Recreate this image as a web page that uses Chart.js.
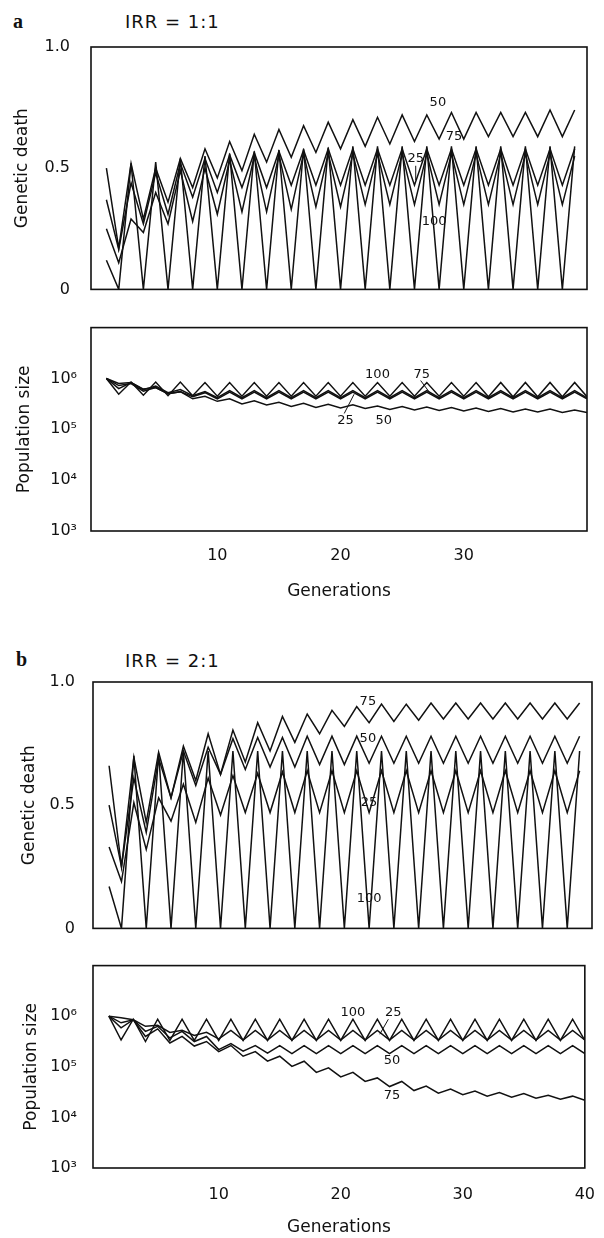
<!DOCTYPE html>
<html>
<head>
<meta charset="utf-8">
<script src="https://cdn.jsdelivr.net/npm/chart.js@4.4.1/dist/chart.umd.min.js"></script>
<style>
  body { margin: 0; background: #fff; width: 604px; height: 1238px; position: relative; overflow: hidden; font-family: "DejaVu Sans", sans-serif; color: #111; }
  canvas { position: absolute; left: 0; }
  .tag { position: absolute; font-family: "Liberation Serif", serif; font-weight: bold; font-size: 20px; line-height: 1; }
  .irr { position: absolute; font-size: 18px; line-height: 1; letter-spacing: 1px; }
</style>
</head>
<body>
<div class="tag" style="left:13px;top:11px">a</div>
<div class="irr" style="left:125px;top:13px">IRR = 1:1</div>
<div class="tag" style="left:16px;top:649px">b</div>
<div class="irr" style="left:125px;top:652px">IRR = 2:1</div>

<canvas id="deathA" width="604" height="312" style="top:0px"></canvas>
<canvas id="popA" width="604" height="294" style="top:312px"></canvas>
<canvas id="deathB" width="604" height="342" style="top:606px"></canvas>
<canvas id="popB" width="604" height="290" style="top:948px"></canvas>

<script>
// generations
const gensDeath = [1,2,3,4,5,6,7,8,9,10,11,12,13,14,15,16,17,18,19,20,21,22,23,24,25,26,27,28,29,30,31,32,33,34,35,36,37,38,39];
const gensPop = [1,2,3,4,5,6,7,8,9,10,11,12,13,14,15,16,17,18,19,20,21,22,23,24,25,26,27,28,29,30,31,32,33,34,35,36,37,38,39,40];

const deathTicks = [0, 0.5, 1];
const deathTickText = ['0', '0.5', '1.0'];
const popTicks = [1e3, 1e4, 1e5, 1e6];
const popTickText = ['10³', '10⁴', '10⁵', '10⁶'];
const genTicksA = [10, 20, 30];
const genTicksB = [10, 20, 30, 40];

// a: IRR = 1:1, genetic death
const deathA50 = [0.50,0.17,0.52,0.29,0.50,0.36,0.54,0.42,0.58,0.46,
  0.61,0.49,0.64,0.525,0.66,0.545,0.675,0.565,0.69,0.58,
  0.70,0.59,0.71,0.60,0.72,0.61,0.72,0.62,0.73,0.62,
  0.73,0.63,0.73,0.63,0.73,0.63,0.74,0.63,0.74];
const deathA75 = [0.37,0.165,0.44,0.27,0.48,0.31,0.52,0.38,0.54,0.40,
  0.555,0.42,0.565,0.42,0.57,0.43,0.575,0.43,0.58,0.43,
  0.58,0.43,0.58,0.43,0.58,0.43,0.58,0.43,0.58,0.43,
  0.58,0.43,0.58,0.43,0.58,0.43,0.58,0.43,0.58];
const deathA25 = [0.25,0.11,0.29,0.235,0.40,0.27,0.49,0.28,0.50,0.31,
  0.535,0.32,0.55,0.32,0.555,0.33,0.56,0.34,0.56,0.34,
  0.56,0.35,0.56,0.35,0.56,0.35,0.56,0.35,0.56,0.35,
  0.56,0.35,0.56,0.35,0.56,0.35,0.56,0.35,0.55];
const deathA100 = [0.12,0,0.52,0,0.525,0,0.54,0,0.55,0,
  0.56,0,0.57,0,0.575,0,0.58,0,0.585,0,
  0.59,0,0.59,0,0.59,0,0.59,0,0.59,0,
  0.59,0,0.59,0,0.59,0,0.59,0,0.59];

// a: population size
const popA100 = [1.00e6,4.90e5,8.51e5,4.68e5,8.51e5,4.57e5,8.51e5,4.57e5,8.32e5,4.47e5,
  8.32e5,4.47e5,8.32e5,4.47e5,8.32e5,4.47e5,8.32e5,4.47e5,8.32e5,4.47e5,
  8.32e5,4.47e5,8.32e5,4.47e5,8.32e5,4.47e5,8.32e5,4.47e5,8.32e5,4.47e5,
  8.32e5,4.37e5,8.32e5,4.37e5,8.32e5,4.37e5,8.32e5,4.37e5,8.32e5,4.37e5];
const popA75 = [1.00e6,6.31e5,8.32e5,6.03e5,7.08e5,5.25e5,6.03e5,4.57e5,5.50e5,4.17e5,
  5.75e5,4.17e5,5.75e5,4.17e5,5.75e5,4.17e5,5.75e5,4.17e5,5.75e5,4.17e5,
  5.75e5,4.17e5,5.75e5,4.17e5,5.75e5,4.17e5,5.75e5,4.17e5,5.75e5,4.17e5,
  5.75e5,4.17e5,5.75e5,4.17e5,5.75e5,4.17e5,5.75e5,4.17e5,5.75e5,4.17e5];
const popA25 = [1.00e6,7.24e5,7.94e5,5.62e5,6.61e5,5.01e5,5.50e5,4.37e5,5.25e5,3.98e5,
  5.37e5,3.98e5,5.37e5,3.98e5,5.37e5,3.98e5,5.37e5,3.98e5,5.37e5,3.98e5,
  5.37e5,3.98e5,5.37e5,3.98e5,5.37e5,3.98e5,5.37e5,3.98e5,5.37e5,3.98e5,
  5.37e5,3.98e5,5.37e5,3.98e5,5.37e5,3.98e5,5.37e5,3.98e5,5.37e5,3.98e5];
const popA50 = [1.00e6,7.94e5,8.32e5,6.17e5,6.61e5,5.01e5,5.50e5,3.98e5,4.47e5,3.55e5,
  3.98e5,3.16e5,3.63e5,3.02e5,3.39e5,2.82e5,3.24e5,2.69e5,3.09e5,2.63e5,
  3.02e5,2.57e5,2.88e5,2.45e5,2.82e5,2.40e5,2.75e5,2.34e5,2.69e5,2.29e5,
  2.63e5,2.24e5,2.57e5,2.19e5,2.51e5,2.19e5,2.51e5,2.14e5,2.40e5,2.14e5];

// b: IRR = 2:1, genetic death
const deathB75 = [0.66,0.25,0.695,0.43,0.715,0.53,0.74,0.60,0.79,0.625,
  0.805,0.675,0.835,0.72,0.86,0.755,0.87,0.79,0.885,0.82,
  0.90,0.835,0.91,0.84,0.91,0.845,0.915,0.85,0.915,0.85,
  0.915,0.85,0.915,0.85,0.915,0.85,0.915,0.85,0.915];
const deathB50 = [0.50,0.25,0.61,0.39,0.69,0.53,0.72,0.58,0.735,0.625,
  0.77,0.645,0.775,0.655,0.775,0.655,0.78,0.665,0.78,0.665,
  0.78,0.67,0.78,0.67,0.78,0.67,0.78,0.67,0.78,0.67,
  0.78,0.67,0.78,0.67,0.78,0.67,0.78,0.67,0.78];
const deathB25 = [0.33,0.19,0.51,0.32,0.53,0.435,0.585,0.43,0.61,0.46,
  0.62,0.47,0.63,0.47,0.635,0.47,0.64,0.47,0.64,0.47,
  0.64,0.47,0.64,0.47,0.64,0.47,0.64,0.47,0.64,0.47,
  0.64,0.47,0.64,0.47,0.64,0.47,0.64,0.47,0.64];
const deathB100 = [0.17,0,0.70,0,0.71,0,0.72,0,0.72,0,
  0.72,0,0.72,0,0.72,0,0.72,0,0.72,0,
  0.72,0,0.72,0,0.72,0,0.72,0,0.72,0,
  0.72,0,0.72,0,0.72,0,0.72,0,0.72];

// b: population size
const popB100 = [1.00e6,3.39e5,8.71e5,3.16e5,8.71e5,3.31e5,8.71e5,3.31e5,8.71e5,3.31e5,
  8.71e5,3.31e5,8.71e5,3.31e5,8.71e5,3.31e5,8.71e5,3.31e5,8.71e5,3.31e5,
  8.71e5,3.31e5,8.71e5,3.31e5,8.71e5,3.31e5,8.71e5,3.31e5,8.71e5,3.31e5,
  8.71e5,3.31e5,8.71e5,3.31e5,8.71e5,3.31e5,8.71e5,3.31e5,8.71e5,3.31e5];
const popB25 = [1.00e6,9.33e5,8.51e5,6.31e5,6.61e5,4.79e5,5.25e5,4.17e5,4.79e5,3.55e5,
  5.25e5,3.39e5,5.25e5,3.39e5,5.25e5,3.39e5,5.25e5,3.39e5,5.25e5,3.39e5,
  5.25e5,3.39e5,5.25e5,3.39e5,5.25e5,3.39e5,5.25e5,3.39e5,5.25e5,3.39e5,
  5.25e5,3.39e5,5.25e5,3.39e5,5.25e5,3.39e5,5.25e5,3.39e5,5.25e5,3.39e5];
const popB50 = [1.00e6,7.41e5,8.51e5,5.01e5,6.31e5,3.72e5,5.01e5,3.16e5,3.98e5,2.19e5,
  2.88e5,2.04e5,2.63e5,1.86e5,2.63e5,1.82e5,2.63e5,1.82e5,2.63e5,1.82e5,
  2.63e5,1.82e5,2.63e5,1.82e5,2.63e5,1.82e5,2.63e5,1.82e5,2.63e5,1.82e5,
  2.63e5,1.82e5,2.63e5,1.82e5,2.63e5,1.82e5,2.63e5,1.82e5,2.63e5,1.82e5];
const popB75 = [1.00e6,5.89e5,8.51e5,3.98e5,5.62e5,2.95e5,3.98e5,2.57e5,3.16e5,2.00e5,
  2.63e5,1.62e5,2.00e5,1.29e5,1.62e5,1.02e5,1.29e5,7.76e4,9.55e4,6.31e4,
  7.76e4,5.13e4,6.03e4,4.07e4,5.13e4,3.39e4,4.17e4,3.02e4,3.63e4,2.82e4,
  3.31e4,2.63e4,3.09e4,2.51e4,2.95e4,2.40e4,2.75e4,2.29e4,2.63e4,2.19e4];

// curve labels, in data units
const labelsDeathA = [
  { text: '50', gen: 27.9, value: 0.77 },
  { text: '75', gen: 29.2, value: 0.63 },
  { text: '25', gen: 26.1, value: 0.54 },
  { text: '100', gen: 27.6, value: 0.28 }
];
const leadersDeathA = [[26.1, 0.51, 26.1, 0.45]];
const labelsPopA = [
  { text: '100', gen: 23.0, value: 1.2e6 },
  { text: '75', gen: 26.6, value: 1.2e6 },
  { text: '25', gen: 20.4, value: 1.5e5 },
  { text: '50', gen: 23.5, value: 1.5e5 }
];
const leadersPopA = [[20.3, 2.05e5, 21.1, 4.9e5], [26.5, 9.1e5, 27.2, 5.4e5]];
const labelsDeathB = [
  { text: '75', gen: 21.9, value: 0.92 },
  { text: '50', gen: 21.9, value: 0.77 },
  { text: '25', gen: 22.0, value: 0.51 },
  { text: '100', gen: 22.0, value: 0.12 }
];
const labelsPopB = [
  { text: '100', gen: 21.0, value: 1.2e6 },
  { text: '25', gen: 24.3, value: 1.2e6 },
  { text: '50', gen: 24.2, value: 1.3e5 },
  { text: '75', gen: 24.2, value: 2.75e4 }
];
const leadersPopB = [[23.9, 8.7e5, 23.2, 4.4e5]];

const INK = '#111';
Chart.defaults.font.family = '"DejaVu Sans", sans-serif';
Chart.defaults.color = INK;

const frame = {
  id: 'frame',
  afterDraw(chart) {
    const { ctx, chartArea: a } = chart;
    ctx.save();
    ctx.strokeStyle = INK;
    ctx.lineWidth = 1.6;
    ctx.strokeRect(a.left, a.top, a.right - a.left, a.bottom - a.top);
    ctx.restore();
  }
};

const curveLabels = {
  id: 'curveLabels',
  afterDatasetsDraw(chart, args, opts) {
    const { ctx, scales: { x, y } } = chart;
    ctx.save();
    ctx.fillStyle = INK;
    ctx.strokeStyle = INK;
    ctx.lineWidth = 1;
    ctx.font = '13px "DejaVu Sans"';
    ctx.textAlign = 'center';
    ctx.textBaseline = 'middle';
    (opts.items || []).forEach(l => {
      ctx.fillText(l.text, x.getPixelForValue(l.gen), y.getPixelForValue(l.value));
    });
    (opts.leaders || []).forEach(s => {
      ctx.beginPath();
      ctx.moveTo(x.getPixelForValue(s[0]), y.getPixelForValue(s[1]));
      ctx.lineTo(x.getPixelForValue(s[2]), y.getPixelForValue(s[3]));
      ctx.stroke();
    });
    ctx.restore();
  }
};

function series(gens, values) {
  return {
    data: values.map((v, i) => ({ x: gens[i], y: v })),
    borderColor: INK,
    borderWidth: 1.5,
    pointRadius: 0,
    fill: false,
    tension: 0
  };
}

function makePanel(id, cfg) {
  new Chart(document.getElementById(id), {
    type: 'line',
    data: { datasets: cfg.datasets },
    options: {
      responsive: false,
      animation: false,
      layout: { padding: { top: cfg.padTop, right: cfg.padRight, left: 0, bottom: 0 } },
      plugins: {
        legend: { display: false },
        tooltip: { enabled: false },
        curveLabels: { items: cfg.labels, leaders: cfg.leaders }
      },
      scales: {
        x: {
          type: 'linear',
          min: cfg.xMin,
          max: 40,
          afterBuildTicks: s => { s.ticks = cfg.xTicks.map(v => ({ value: v })); },
          afterFit: s => { s.height = cfg.xHeight; },
          grid: { display: false },
          border: { display: false },
          ticks: {
            display: cfg.showX,
            maxRotation: 0,
            padding: cfg.xTickPad,
            font: { size: 16 },
            callback: v => String(v)
          },
          title: {
            display: cfg.showX,
            text: 'Generations',
            font: { size: 17 },
            padding: { top: 0, bottom: cfg.xTitlePad }
          }
        },
        y: cfg.y
      }
    },
    plugins: [frame, curveLabels]
  });
}

function deathAxis(width, tickPad, titlePad) {
  return {
    type: 'linear',
    min: 0,
    max: 1,
    afterBuildTicks: s => { s.ticks = deathTicks.map(v => ({ value: v })); },
    afterFit: s => { s.width = width; },
    grid: { display: false },
    border: { display: false },
    ticks: { padding: tickPad, font: { size: 16 }, callback: (v, i) => deathTickText[i] },
    title: { display: true, text: 'Genetic death', font: { size: 17 }, padding: { top: titlePad, bottom: 0 } }
  };
}

function popAxis(width, tickPad, titlePad) {
  return {
    type: 'logarithmic',
    min: 1e3,
    max: 1e7,
    afterBuildTicks: s => { s.ticks = popTicks.map(v => ({ value: v })); },
    afterFit: s => { s.width = width; },
    grid: { display: false },
    border: { display: false },
    ticks: { padding: tickPad, font: { size: 16 }, callback: (v, i) => popTickText[i] },
    title: { display: true, text: 'Population size', font: { size: 17 }, padding: { top: titlePad, bottom: 0 } }
  };
}

makePanel('deathA', {
  datasets: [series(gensDeath, deathA100), series(gensDeath, deathA25), series(gensDeath, deathA75), series(gensDeath, deathA50)],
  padTop: 47, padRight: 17, xMin: -0.25, xTicks: genTicksA, xHeight: 10, showX: false, xTickPad: 0, xTitlePad: 0,
  labels: labelsDeathA, leaders: leadersDeathA,
  y: deathAxis(91, 13, 12)
});

makePanel('popA', {
  datasets: [series(gensPop, popA100), series(gensPop, popA75), series(gensPop, popA25), series(gensPop, popA50)],
  padTop: 14, padRight: 17, xMin: -0.25, xTicks: genTicksA, xHeight: 75, showX: true, xTickPad: 7, xTitlePad: 4,
  labels: labelsPopA, leaders: leadersPopA,
  y: popAxis(91, 6, 14)
});

makePanel('deathB', {
  datasets: [series(gensDeath, deathB100), series(gensDeath, deathB25), series(gensDeath, deathB50), series(gensDeath, deathB75)],
  padTop: 76, padRight: 12, xMin: -0.3, xTicks: genTicksB, xHeight: 10, showX: false, xTickPad: 0, xTitlePad: 0,
  labels: labelsDeathB, leaders: [],
  y: deathAxis(93, 10, 19)
});

makePanel('popB', {
  datasets: [series(gensPop, popB100), series(gensPop, popB25), series(gensPop, popB50), series(gensPop, popB75)],
  padTop: 16, padRight: 12, xMin: -0.3, xTicks: genTicksB, xHeight: 70, showX: true, xTickPad: 9, xTitlePad: 0,
  labels: labelsPopB, leaders: leadersPopB,
  y: popAxis(93, 8, 21)
});
</script>
</body>
</html>
